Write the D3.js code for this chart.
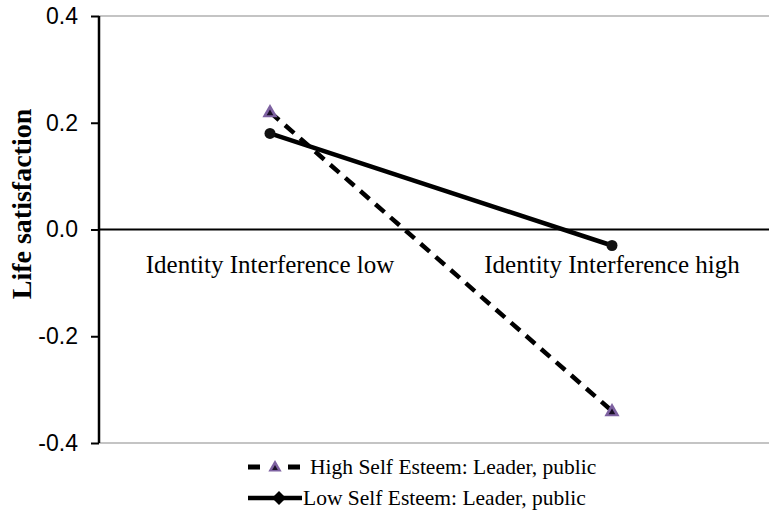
<!DOCTYPE html>
<html lang="en">
<head>
<meta charset="UTF-8" />
<script src="https://d3js.org/d3.v7.min.js"></script>
<style>
    body { margin: 0; background: #fff; }
    svg { display: block; }
</style>
</head>
<body>
<svg width="769" height="523"></svg>
<script>
// chart values
var categories = ["Identity Interference low", "Identity Interference high"];
var highSE = [0.22, -0.34];
var lowSE = [0.18, -0.03];
var yTicks = [-0.4, -0.2, 0.0, 0.2, 0.4];
var seriesNames = ["High Self Esteem: Leader, public", "Low Self Esteem: Leader, public"];

var svg = d3.select("svg");

var x = d3.scaleBand().domain(categories).range([99, 783]);
var y = d3.scaleLinear().domain([-0.4, 0.4]).range([443, 16]);

// gray top / bottom border of plot area
svg.append("line").attr("x1", 99).attr("x2", 769)
    .attr("y1", y(0.4)).attr("y2", y(0.4))
    .attr("stroke", "#c4c4c4").attr("stroke-width", 2);
svg.append("line").attr("x1", 99).attr("x2", 769)
    .attr("y1", y(-0.4)).attr("y2", y(-0.4))
    .attr("stroke", "#c4c4c4").attr("stroke-width", 2);

// left axis
var yAxis = svg.append("g")
    .attr("transform", "translate(99,0)")
    .call(d3.axisLeft(y).tickValues(yTicks).tickSize(8).tickPadding(13));
yAxis.select(".domain").attr("stroke", "#000").attr("stroke-width", 2.5)
    .attr("d", "M0," + y(0.4) + "V" + y(-0.4));
yAxis.selectAll(".tick line").attr("stroke", "#000").attr("stroke-width", 2);
yAxis.selectAll(".tick text")
    .attr("font-family", "'Liberation Sans', Arial, sans-serif")
    .attr("font-size", 23).attr("fill", "#000")
    .text(function(d) { return d3.format(".1f")(d).replace("−", "-"); });

// zero line
svg.append("line").attr("x1", 99).attr("x2", 769)
    .attr("y1", y(0)).attr("y2", y(0))
    .attr("stroke", "#000").attr("stroke-width", 2);

// category labels
svg.selectAll("text.cat").data(categories).enter().append("text")
    .attr("class", "cat")
    .attr("x", function(d) { return x(d) + x.bandwidth() / 2; })
    .attr("y", 273)
    .attr("text-anchor", "middle")
    .attr("font-family", "'Liberation Serif', 'Times New Roman', serif")
    .attr("font-size", 25)
    .text(function(d) { return d; });

// y title
svg.append("text")
    .attr("transform", "translate(31,204) rotate(-90)")
    .attr("text-anchor", "middle")
    .attr("font-family", "'Liberation Serif', 'Times New Roman', serif")
    .attr("font-weight", "bold")
    .attr("font-size", 28)
    .text("Life satisfaction");

var line = d3.line()
    .x(function(d, i) { return x(categories[i]) + x.bandwidth() / 2; })
    .y(function(d) { return y(d); });

svg.append("path").datum(highSE)
    .attr("d", line).attr("fill", "none")
    .attr("stroke", "#000").attr("stroke-width", 4.5)
    .attr("stroke-dasharray", "12,8");
svg.append("path").datum(lowSE)
    .attr("d", line).attr("fill", "none")
    .attr("stroke", "#000").attr("stroke-width", 4.5);

function triangle(cx, cy, s) {
    return "M" + cx + "," + (cy - s) + "L" + (cx + s * 0.95) + "," + (cy + s * 0.65) +
        "L" + (cx - s * 0.95) + "," + (cy + s * 0.65) + "Z";
}

// markers
svg.selectAll("path.tri").data(highSE).enter().append("path")
    .attr("class", "tri")
    .attr("d", function(d, i) { return triangle(x(categories[i]) + x.bandwidth() / 2, y(d), 8); })
    .attr("fill", "#7e62a1");
svg.selectAll("path.tri2").data(highSE).enter().append("path")
    .attr("class", "tri2")
    .attr("d", function(d, i) { return triangle(x(categories[i]) + x.bandwidth() / 2, y(d) + 1, 3.5); })
    .attr("fill", "#1a1026");
svg.selectAll("circle.dot").data(lowSE).enter().append("circle")
    .attr("class", "dot")
    .attr("cx", function(d, i) { return x(categories[i]) + x.bandwidth() / 2; })
    .attr("cy", function(d) { return y(d); })
    .attr("r", 5.5)
    .attr("fill", "#111");

// legend
var leg = svg.append("g");
leg.append("line").attr("x1", 248).attr("x2", 300).attr("y1", 467).attr("y2", 467)
    .attr("stroke", "#000").attr("stroke-width", 5).attr("stroke-dasharray", "12,28");
leg.append("path").attr("d", triangle(275, 467, 7)).attr("fill", "#7e62a1");
leg.append("path").attr("d", triangle(275, 468, 3)).attr("fill", "#1a1026");
leg.append("line").attr("x1", 248).attr("x2", 302).attr("y1", 498).attr("y2", 498)
    .attr("stroke", "#000").attr("stroke-width", 4.5);
leg.append("path").attr("d", "M279,491L286,498L279,505L272,498Z").attr("fill", "#000");
leg.selectAll("text").data(seriesNames).enter().append("text")
    .attr("x", function(d, i) { return i === 0 ? 310 : 303; })
    .attr("y", function(d, i) { return 467 + i * 31 + 7; })
    .attr("font-family", "'Liberation Serif', 'Times New Roman', serif")
    .attr("font-size", 21.5)
    .text(function(d) { return d; });
</script>
</body>
</html>
